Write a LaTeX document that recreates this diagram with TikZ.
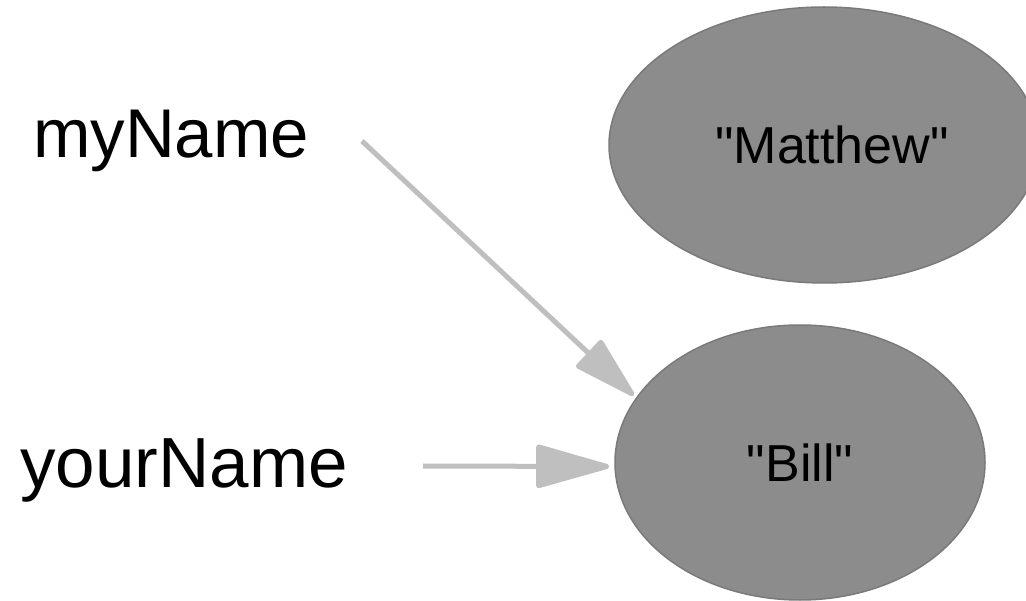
\documentclass[tikz,border=0pt]{standalone}
\usepackage{fontspec}
\setmainfont{Liberation Sans}
\usetikzlibrary{shapes.geometric,arrows.meta,calc}

\tikzset{
  varname/.style={anchor=base west, inner sep=0pt},
  valuebox/.style={ellipse, draw=black!52, line width=1.5pt, fill=black!45,
    inner sep=0pt, font=\fontsize{52}{60}\selectfont},
  ref/.style={draw=black!25, line width=5pt, line join=round,
    -{Triangle[round, length=#1]}},
}

\begin{document}
\begin{tikzpicture}[x=1pt, y=-1pt]
  \useasboundingbox (0,0) rectangle (1026,601);

  % variable names
  \node[varname, font=\fontsize{69}{80}\selectfont] (myname) at (33,158) {myName};
  \node[varname, font=\fontsize{71}{80}\selectfont] (yourname) at (20,488) {yourName};

  % string values
  \node[valuebox, minimum width=430pt, minimum height=276pt,
        label={[xshift=8pt, font=\fontsize{52}{60}\selectfont]center:\textquotedbl Matthew\textquotedbl}]
        (matthew) at (824,145) {};
  \node[valuebox, minimum width=370pt, minimum height=275pt]
        (bill) at (800,462.5) {\textquotedbl Bill\textquotedbl};

  % references
  \coordinate (mystart) at (362,141);
  \coordinate (yourstart) at (423,466);
  \draw[ref={70pt, width=38pt}] (mystart) -- ($(bill.158)+(-3,-1)$);
  \draw[ref={80pt, width=44pt}] (yourstart) -- ($(bill.west)+(-5,4)$);
\end{tikzpicture}
\end{document}
